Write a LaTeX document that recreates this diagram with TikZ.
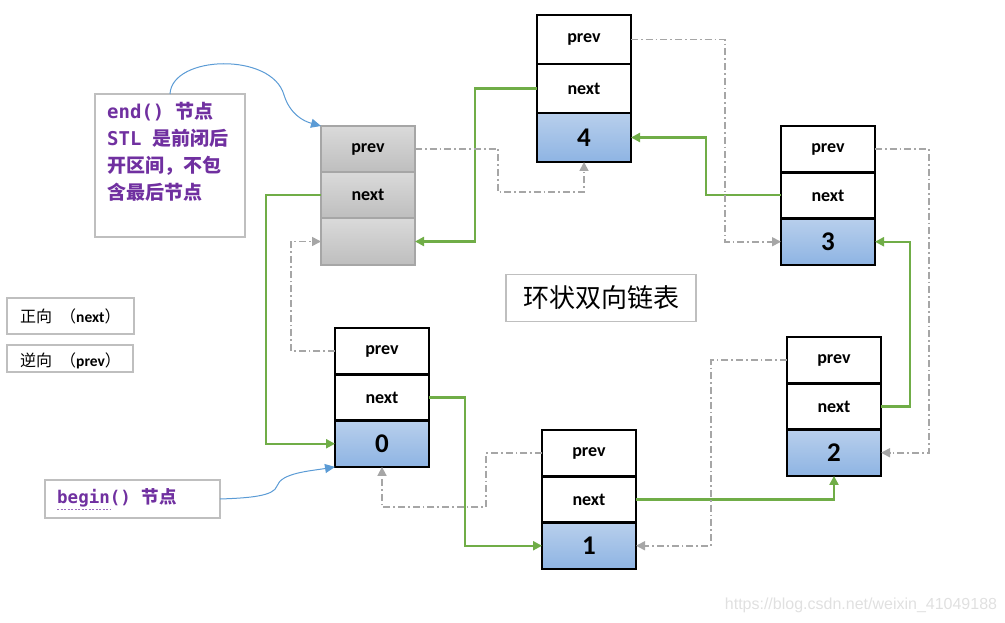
\documentclass[tikz,border=0pt]{standalone}
\usepackage{fontspec}
\setmainfont{Carlito}
\newfontfamily\cjk{Noto Sans CJK SC}
\newfontfamily\monof{DejaVu Sans Mono}
\newfontfamily\wmfont{Liberation Sans}
\usetikzlibrary{arrows.meta}
\definecolor{valtop}{RGB}{184,207,236}
\definecolor{valbot}{RGB}{142,180,227}
\definecolor{gtop}{RGB}{218,218,218}
\definecolor{gbot}{RGB}{190,190,190}
\definecolor{gborder}{RGB}{166,166,166}
\definecolor{nextgreen}{RGB}{112,173,71}
\definecolor{prevgray}{RGB}{166,166,166}
\definecolor{callblue}{RGB}{91,155,213}
\definecolor{callpurple}{RGB}{112,48,160}
\definecolor{boxgray}{RGB}{191,191,191}
\tikzset{
  cellw/.style={draw=black, line width=2.5pt, fill=white, minimum width=94pt, outer sep=0pt, inner sep=0pt, font=\fontsize{18}{20}\bfseries},
  cellv/.style={cellw, top color=valtop, bottom color=valbot, font=\fontsize{27}{30}\bfseries},
  cellg/.style={draw=gborder, line width=1.1pt, top color=gtop, bottom color=gbot, minimum width=94pt, outer sep=0pt, inner sep=0pt, font=\fontsize{18}{20}\bfseries},
  nextln/.style={draw=nextgreen, line width=2.1pt, -{Triangle[length=9pt,width=9pt]}},
  prevln/.style={draw=prevgray, line width=1.7pt, dash pattern=on 7pt off 3pt on 1.7pt off 3pt, -{Triangle[length=9pt,width=9pt]}},
  callln/.style={draw=callblue, line width=1pt, -{Triangle[length=10pt,width=9pt]}},
  callbox/.style={draw=boxgray, line width=1.2pt, inner sep=0pt, outer sep=0pt},
}
% #1 name prefix, #2 x centre, #3 top y, #4 cell height, #5 value
\newcommand\mklistnode[5]{%
  \node[cellw, minimum height=#4, anchor=north] (#1p) at (#2,#3) {prev};
  \node[cellw, minimum height=#4, anchor=north] (#1n) at (#1p.south) {next};
  \node[cellv, minimum height=#4, anchor=north] (#1v) at (#1n.south) {#5};
}
\begin{document}
\begin{tikzpicture}[x=1pt,y=-1pt]
\useasboundingbox (0,0) rectangle (1005,623);
% end() node (grey)
\node[cellg, minimum height=46pt, anchor=north] (ep) at (368,126) {prev};
\node[cellg, minimum height=46pt, anchor=north] (en) at (ep.south) {next};
\node[cellg, minimum height=47pt, anchor=north] (ev) at (en.south) {};
% list nodes
\mklistnode{nf}{584}{15}{49pt}{4}
\mklistnode{nt}{828}{126}{46.3pt}{3}
\mklistnode{nz}{382}{328}{46.3pt}{0}
\mklistnode{no}{589}{430}{46.3pt}{1}
\mklistnode{nw}{834}{337}{46.3pt}{2}
% next links (green)
\draw[nextln] (en.west) -- ++(-55,0) |- (nzv.west);
\draw[nextln] (nzn.east) -- ++(36,0) |- (nov.west);
\draw[nextln] (non.east) -| (nwv.south);
\draw[nextln] (nwn.east) -- ++(29,0) |- (ntv.east);
\draw[nextln] (ntn.west) -- ++(-75,0) |- (nfv.east);
\draw[nextln] (nfn.west) -- ++(-62,0) |- (ev.east);
% prev links (grey dash-dot)
\draw[prevln] (ep.east) -- ++(83,0) -- ++(0,43) -| (nfv.south);
\draw[prevln] (nfp.east) -- ++(94,0) |- (ntv.west);
\draw[prevln] (ntp.east) -- ++(54,0) |- (nwv.east);
\draw[prevln] (nwp.west) -- ++(-76,0) |- (nov.east);
\draw[prevln] (nop.west) -- ++(-56,0) -- ++(0,54) -| (nzv.south);
\draw[prevln] (nzp.west) -- ++(-44,0) |- (ev.west);
% end() callout
\node[callbox, minimum width=150pt, minimum height=143pt] (ecall) at (170,165.5) {};
\node[anchor=north west, inner sep=0pt, align=left, text=callpurple,
      font=\fontsize{19}{27}\selectfont] (ecallt) at (107,102)
  {{\monof\bfseries end()}\hspace{11pt}{\cjk\bfseries 节点}\\
   {\monof\bfseries STL}\hspace{11pt}{\cjk\bfseries 是前闭后}\\
   {\cjk\bfseries 开区间，不包}\\
   {\cjk\bfseries 含最后节点}};
\draw[callln] (ecall.north) .. controls (172,55) and (272,52) .. (284,95)
   .. controls (290,114) and (303,121) .. (ep.north west);
% begin() callout
\node[callbox, minimum width=175pt, minimum height=38pt] (bcall) at (132.5,499) {};
\node[anchor=west, inner sep=0pt, text=callpurple, font=\fontsize{17.5}{20}\selectfont] (bcallt) at (57,498)
  {{\monof\bfseries begin()}\hspace{11pt}{\cjk\bfseries 节点}};
\draw[draw=callpurple!70, line width=0.8pt, dash pattern=on 2pt off 1.5pt] (57,509) -- (110,509);
\draw[callln] (bcall.east) .. controls (250,498) and (274,496) .. (277,486)
   .. controls (281,473) and (310,471) .. (nzv.south west);
% legend
\node[callbox, minimum width=127pt, minimum height=36pt] (lgn) at (70.5,316) {};
\node[anchor=west, inner sep=0pt] (lgnt) at (20,316)
  {{\cjk\fontsize{16}{18}\selectfont 正向\hspace{8pt}（}{\fontsize{15.5}{16}\bfseries next}{\cjk\fontsize{16}{18}\selectfont ）}};
\node[callbox, minimum width=126pt, minimum height=27pt] (lgp) at (70,358.5) {};
\node[anchor=west, inner sep=0pt] (lgpt) at (20,361)
  {{\cjk\fontsize{16}{18}\selectfont 逆向\hspace{8pt}（}{\fontsize{15.5}{16}\bfseries prev}{\cjk\fontsize{16}{18}\selectfont ）}};
% title
\node[callbox, minimum width=190pt, minimum height=47pt, font=\cjk\fontsize{26}{30}\selectfont] (title) at (601,298) {环状双向链表};
% watermark
\node[inner sep=0pt, text=black!12, font=\wmfont\fontsize{16}{18}\selectfont] (wm) at (861,605) {https://blog.csdn.net/weixin\_41049188};
\end{tikzpicture}
\end{document}
